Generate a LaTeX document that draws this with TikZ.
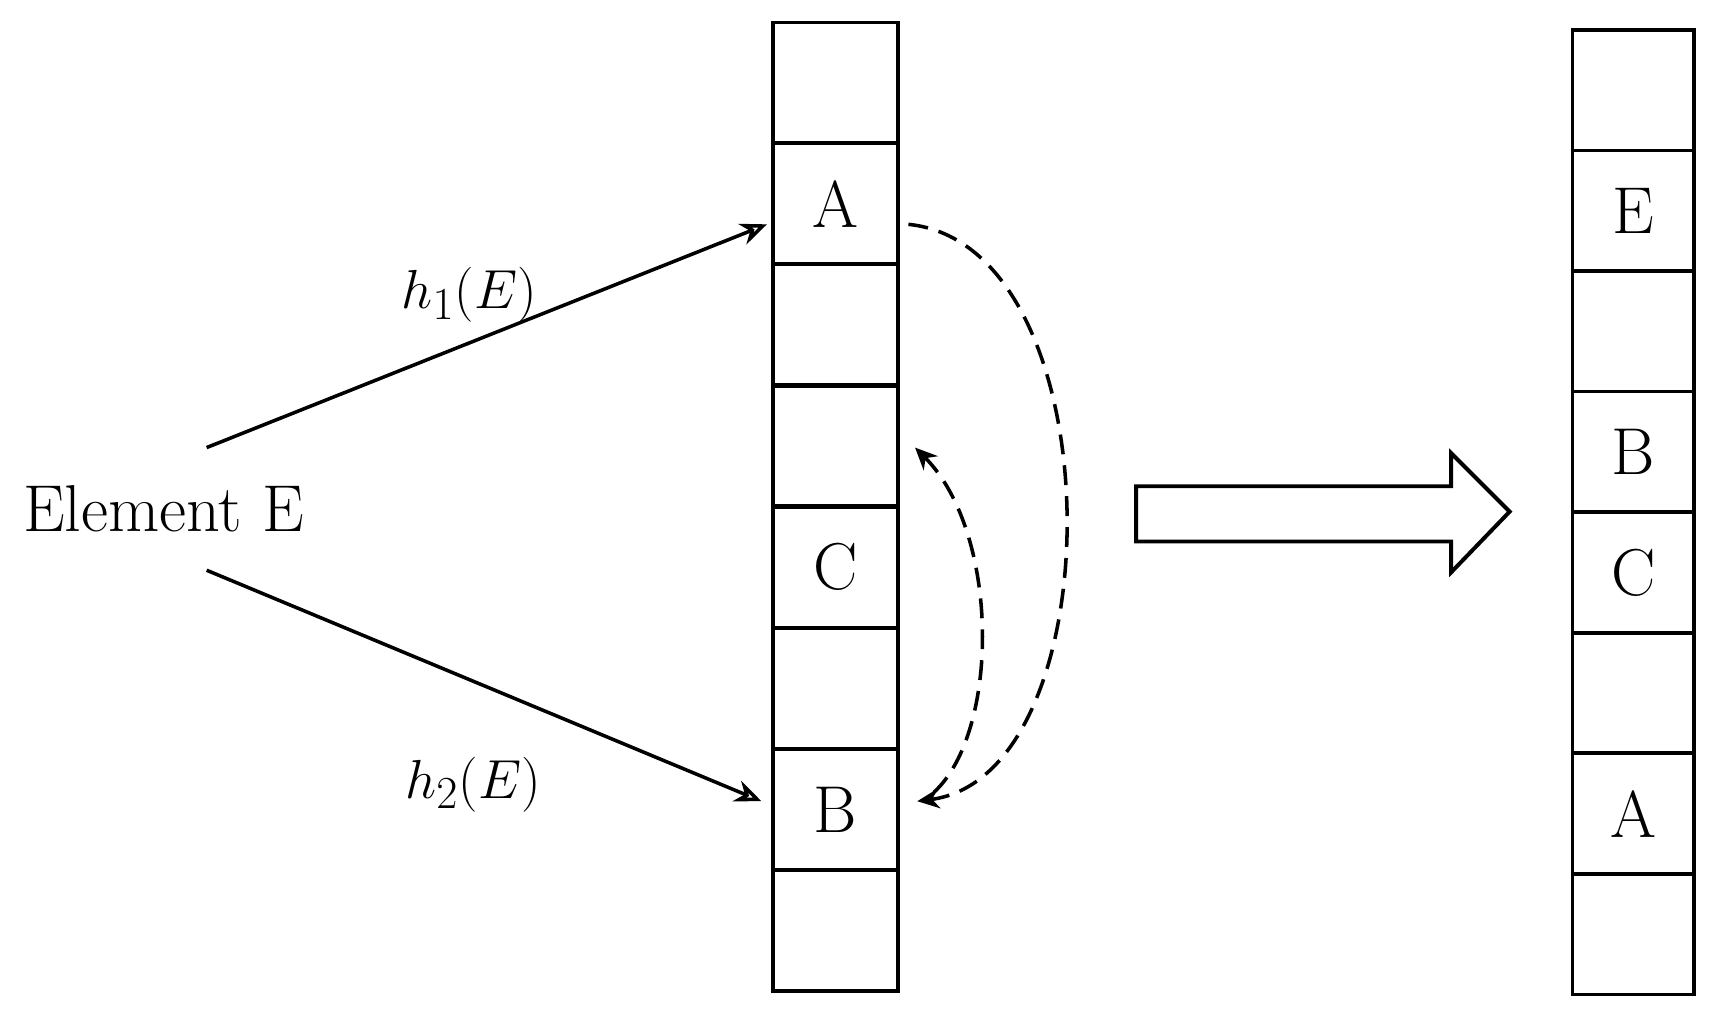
\documentclass[tikz,border=0pt]{standalone}
\usepackage{amsmath}
\usepackage{tikz}
\usetikzlibrary{arrows.meta}
\begin{document}
\begin{tikzpicture}[x=0.5pt,y=0.5pt,line width=1.6pt,
	cell/.style={draw,minimum width=56.5pt,minimum height=54.5pt,inner sep=0pt,font=\fontsize{30}{34}\selectfont},
	big/.style={font=\fontsize{30}{34}\selectfont},
	hash/.style={-{Stealth[length=12pt,width=10pt,open]}},
	move/.style={dashed,dash pattern=on 9pt off 5pt,-{Stealth[length=10pt,width=9pt]}}]
	% Canvas
	\useasboundingbox (0,0) rectangle (1560,922);
	% Table before insertion
	\foreach \n/\t [count=\i] in {1/,2/A,3/,4/,5/C,6/,7/B,8/}
		\node[cell] (t\n) at (756,922-20-109.6*\i+54.8) {\t};
	% Table after insertion
	\foreach \n/\t [count=\i] in {1/,2/E,3/,4/B,5/C,6/,7/A,8/}
		\node[cell,minimum width=55pt] (s\n) at (1478,922-27-109.1*\i+54.5) {\t};
	% Element and hash arrows
	\node[big] (elem) at (148,462) {Element E};
	\coordinate (e1) at (187,517);
	\coordinate (e2) at (187,406);
	\coordinate (a) at (694,719);
	\coordinate (b) at (689,197);
	\draw[hash] (e1) -- (a) node[pos=0.5,above=2pt,big,xshift=-8pt] {$h_1(E)$};
	\draw[hash] (e2) -- (b);
	\node[big] (h2) at (428,212) {$h_2(E)$};
	% Kicked out entries
	\coordinate (o1) at (822,719);
	\coordinate (o2) at (830,197);
	\coordinate (i1) at (845,205);
	\coordinate (i2) at (828,517);
	\draw[move] (o1) .. controls (1010,700) and (1010,220) .. (o2);
	\draw[move] (i1) .. controls (905,260) and (905,440) .. (i2);
	% Result arrow
	\draw[line width=1.8pt] (1028,432) -- (1313,432) -- (1313,404) -- (1366,459)
		-- (1313,512) -- (1313,482) -- (1028,482) -- cycle;
\end{tikzpicture}
\end{document}
